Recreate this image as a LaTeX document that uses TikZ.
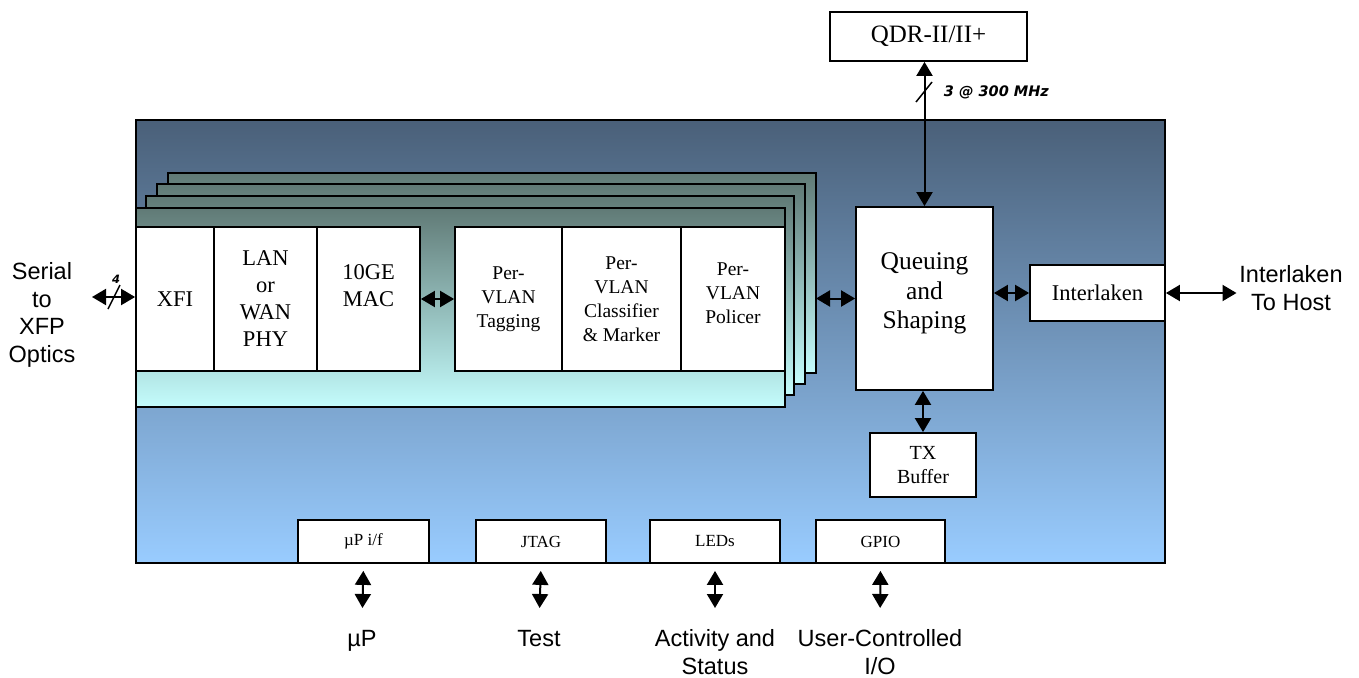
\documentclass[tikz,border=0pt]{standalone}
\usepackage{fontspec}
\setmainfont{Liberation Serif}
\setsansfont{Liberation Sans}
\newfontfamily\notefont{DejaVu Sans}
\usetikzlibrary{arrows.meta,positioning}

\definecolor{chiptop}{HTML}{4A6079}
\definecolor{chipbot}{HTML}{99CCFF}
\definecolor{boardtop}{HTML}{607A76}
\definecolor{boardbot}{HTML}{C4FCFC}

\begin{document}
\begin{tikzpicture}[x=1pt, y=-1pt, line width=1.8pt,
  >={Triangle[length=14pt, width=16pt]},
  blk/.style={rectangle, draw=black, fill=white, align=center, inner sep=2pt,
    font=\fontsize{22.5}{27}\selectfont},
  small/.style={blk, font=\fontsize{19.5}{24}\selectfont},
  tiny/.style={blk, font=\fontsize{17}{20}\selectfont},
  ext/.style={align=center, inner sep=2pt, font=\sffamily\fontsize{23.5}{27.5}\selectfont},
  note/.style={inner sep=1pt, font=\notefont\bfseries\itshape\fontsize{14.5}{16}\selectfont},
  board/.style={draw=black, top color=boardtop, bottom color=boardbot},
  dbl/.style={<->, line width=2pt}]
  \useasboundingbox (0,0) rectangle (1359,677);

  % chip and stacked port boards
  \shade[draw=black, top color=chiptop, bottom color=chipbot] (136,120) rectangle (1165,563);
  \foreach \dx/\dy/\rx/\by in {32/-35/816/373, 21/-24/805/384, 10/-12/794/395}
    \shade[board] (136+\dx,208+\dy) rectangle (\rx,\by);
  \node[board, rectangle, minimum width=649pt, minimum height=199pt, inner sep=0pt] (board) at (460.5,307.5) {};
  \coordinate (bout) at (816,0);

  % port modules
  \node[blk, minimum width=78pt, minimum height=144pt] (xfi) at (175,299) {XFI};
  \node[blk, minimum width=103pt, minimum height=144pt] (phy) at (265.5,299) {LAN\\or\\WAN\\PHY};
  \node[blk, minimum width=103pt, minimum height=144pt] (mac) at (368.5,299) {10GE\\MAC\\\mbox{}};
  \node[small, minimum width=107pt, minimum height=144pt] (tag) at (508.5,299) {Per-\\VLAN\\Tagging};
  \node[small, minimum width=119pt, minimum height=144pt] (cls) at (621.5,299) {Per-\\VLAN\\Classifier\\\&~Marker};
  \node[small, minimum width=104pt, minimum height=144pt] (pol) at (733,299) {Per-\\VLAN\\Policer\\[-12pt]\mbox{}};

  % central blocks
  \node[blk, minimum width=137pt, minimum height=183pt, font=\fontsize{25.5}{29.5}\selectfont] (queue) at (924.5,298.5) {Queuing\\and\\Shaping\\[-14pt]\mbox{}};
  \node[blk, minimum width=135pt, minimum height=56pt] (il) at (1097.5,293) {Interlaken};
  \node[blk, minimum width=197pt, minimum height=49pt, font=\fontsize{25}{29}\selectfont] (qdr) at (928.5,36.5) {QDR-II/II+};
  \node[small, minimum width=106pt, minimum height=64pt, font=\fontsize{20}{24}\selectfont] (tx) at (923,465) {TX\\Buffer};

  % control interfaces
  \node[tiny, minimum width=131pt, minimum height=43pt] (upi) at (363.5,541.5) {µP i/f};
  \node[tiny, minimum width=130pt, minimum height=43pt] (jtag) at (541,541.5) {JTAG};
  \node[tiny, minimum width=130pt, minimum height=43pt] (leds) at (715,541.5) {LEDs};
  \node[tiny, minimum width=129pt, minimum height=43pt] (gpio) at (880.5,541.5) {GPIO};

  % outside labels
  \node[ext] (serial) at (42,315) {Serial\\to\\XFP\\Optics};
  \node[ext] (host) at (1291,288) {Interlaken\\To Host};
  \node[ext, anchor=north] (up) at (362,627) {µP};
  \node[ext, anchor=north] (test) at (539,627) {Test};
  \node[ext, anchor=north] (act) at (715,627) {Activity and\\Status};
  \node[ext, anchor=north] (usr) at (880,627) {User-Controlled\\I/O};
  \coordinate (xfp) at (92,297);

  % connectors
  \draw[dbl] (xfp) -- (xfi.west |- xfp);
  \draw[line width=1.5pt] (108,309) -- (120,285);
  \node[note, font=\notefont\bfseries\itshape\fontsize{11.5}{13}\selectfont] (lanes) at (116,279) {4};
  \draw[dbl] (mac.east) -- (tag.west);
  \draw[dbl] (queue.west -| bout) -- (queue.west);
  \draw[dbl] (queue.east |- il.west) -- (il.west);
  \draw[dbl] (il.east) -- (host.west |- il.east);
  \draw[dbl] (qdr.south -| queue.north) -- (queue.north);
  \draw[line width=1.5pt] (916,102) -- (932,82);
  \node[note, anchor=west] (rate) at (942,92) {3 @ 300 MHz};
  \draw[dbl] (queue.south -| tx.north) -- (tx.north);
  \draw[dbl, shorten <=7pt, shorten >=19pt] (upi.south) -- (up.north);
  \draw[dbl, shorten <=7pt, shorten >=19pt] (jtag.south) -- (test.north);
  \draw[dbl, shorten <=7pt, shorten >=19pt] (leds.south) -- (act.north);
  \draw[dbl, shorten <=7pt, shorten >=19pt] (gpio.south) -- (usr.north);
\end{tikzpicture}
\end{document}
